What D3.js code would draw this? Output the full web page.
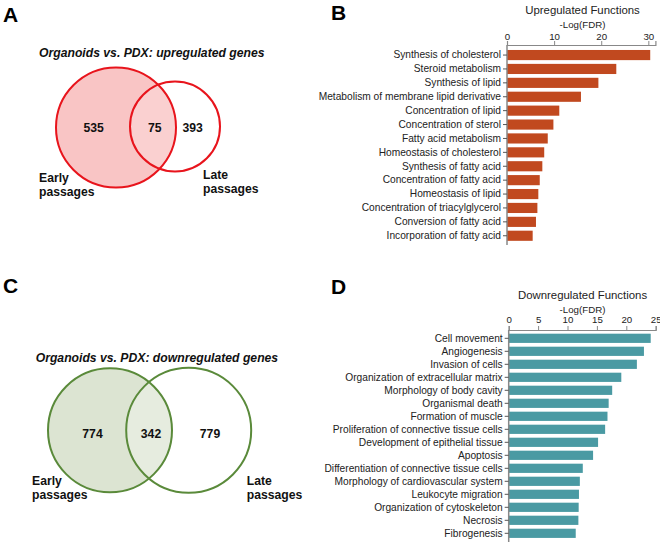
<!DOCTYPE html>
<html><head><meta charset="utf-8">
<script src="https://cdn.jsdelivr.net/npm/d3@7"></script>
<style>body{margin:0;background:#fff}svg{display:block;font-family:"Liberation Sans",Arial,sans-serif}</style>
</head><body><svg id="c" width="660" height="542"></svg>
<script>
const vennUpCounts = [535, 75, 393];
const vennDownCounts = [774, 342, 779];
const vennUpTitle = "Organoids vs. PDX: upregulated genes";
const vennDownTitle = "Organoids vs. PDX: downregulated genes";
const upFunctions = ["Synthesis of cholesterol","Steroid metabolism","Synthesis of lipid","Metabolism of membrane lipid derivative","Concentration of lipid","Concentration of sterol","Fatty acid metabolism","Homeostasis of cholesterol","Synthesis of fatty acid","Concentration of fatty acid","Homeostasis of lipid","Concentration of triacylglycerol","Conversion of fatty acid","Incorporation of fatty acid"];
const upValues = [30.4, 23.2, 19.4, 15.7, 11.1, 9.85, 8.65, 7.9, 7.5, 6.95, 6.65, 6.45, 6.15, 5.45];
const upTicks = [0, 10, 20, 30];
const downFunctions = ["Cell movement","Angiogenesis","Invasion of cells","Organization of extracellular matrix","Morphology of body cavity","Organismal death","Formation of muscle","Proliferation of connective tissue cells","Development of epithelial tissue","Apoptosis","Differentiation of connective tissue cells","Morphology of cardiovascular system","Leukocyte migration","Organization of cytoskeleton","Necrosis","Fibrogenesis"];
const downValues = [24.15, 23.0, 21.8, 19.15, 17.6, 17.0, 16.8, 16.4, 15.2, 14.35, 12.6, 12.1, 11.95, 11.9, 11.85, 11.4];
const downTicks = [0, 5, 10, 15, 20, 25];

const svg = d3.select("#c");

// panel letters
[["A",3,22],["B",331,20],["C",3,293],["D",331,294]].forEach(([t,x,y])=>{
  svg.append("text").attr("x",x).attr("y",y).attr("font-size",21).attr("font-weight","bold").attr("fill","#000").text(t);
});

function venn(cfg){
  const g = svg.append("g");
  const id = "clip"+cfg.key;
  g.append("clipPath").attr("id",id).append("circle").attr("cx",cfg.c1[0]).attr("cy",cfg.c1[1]).attr("r",cfg.c1[2]);
  g.append("circle").attr("cx",cfg.c1[0]).attr("cy",cfg.c1[1]).attr("r",cfg.c1[2]).attr("fill",cfg.fill1);
  g.append("circle").attr("cx",cfg.c2[0]).attr("cy",cfg.c2[1]).attr("r",cfg.c2[2]).attr("fill",cfg.fillO).attr("clip-path",`url(#${id})`);
  [cfg.c1,cfg.c2].forEach(c=>g.append("circle").attr("cx",c[0]).attr("cy",c[1]).attr("r",c[2]).attr("fill","none").attr("stroke",cfg.stroke).attr("stroke-width",2));
  g.append("text").attr("x",cfg.titleX).attr("y",cfg.titleY).attr("font-size",12.2).attr("font-weight","bold").attr("font-style","italic").attr("fill","#111").text(cfg.title);
  cfg.counts.forEach((v,i)=>{
    g.append("text").attr("x",cfg.numX[i]).attr("y",cfg.numY).attr("text-anchor","middle").attr("font-size",12.2).attr("font-weight","bold").attr("fill","#111").text(v);
  });
  [[cfg.earlyX,cfg.earlyY,"Early"],[cfg.earlyX,cfg.earlyY+14,"passages"],[cfg.lateX,cfg.lateY,"Late"],[cfg.lateX,cfg.lateY+14,"passages"]].forEach(([x,y,t])=>{
    g.append("text").attr("x",x).attr("y",y).attr("font-size",12.2).attr("font-weight","bold").attr("fill","#111").text(t);
  });
}

venn({key:"A",c1:[116,127.5,60],c2:[175,126.5,45],fill1:"#f9c5c5",fillO:"#fad0d0",stroke:"#e8141c",
  title:vennUpTitle,titleX:39,titleY:56.5,counts:vennUpCounts,numX:[93.7,154.7,192.7],numY:132,
  earlyX:39,earlyY:182,lateX:203,lateY:178.5});
venn({key:"C",c1:[110,430.3,62],c2:[188.7,430.3,62.5],fill1:"#dce4d2",fillO:"#e6ecdf",stroke:"#5a8a3a",
  title:vennDownTitle,titleX:35.7,titleY:362,counts:vennDownCounts,numX:[92.5,151,210],numY:437.5,
  earlyX:32,earlyY:485,lateX:246.7,lateY:485});

function bars(cfg){
  const g = svg.append("g");
  const x = d3.scaleLinear().domain([0,cfg.max]).range([cfg.x0,cfg.x1]);
  const y = d3.scaleBand().domain(cfg.labels).range([cfg.yTop,cfg.yTop+cfg.step*cfg.labels.length]).paddingInner(cfg.pad).paddingOuter(cfg.pad/2);
  g.append("text").attr("x",cfg.cx).attr("y",cfg.titleY).attr("text-anchor","middle").attr("font-size",11.4).attr("fill","#222").text(cfg.title);
  g.append("text").attr("x",cfg.cx).attr("y",cfg.titleY+14).attr("text-anchor","middle").attr("font-size",9.7).attr("fill","#222").text("-Log(FDR)");
  g.selectAll("rect").data(cfg.values).join("rect")
    .attr("x",x(0)).attr("y",(d,i)=>y(cfg.labels[i])).attr("width",d=>x(d)-x(0)).attr("height",y.bandwidth())
    .attr("fill",cfg.color);
  const xa = g.append("g").attr("transform",`translate(0,${cfg.axisY})`)
    .call(d3.axisTop(x).tickValues(cfg.ticks).tickSize(4).tickPadding(cfg.tp).tickFormat(d3.format("d")));
  xa.select(".domain").attr("stroke","#888").attr("stroke-width",1.2);
  xa.selectAll(".tick line").attr("stroke","#888");
  xa.selectAll("text").attr("font-size",9.7).attr("fill","#222").attr("font-family","Liberation Sans, Arial, sans-serif");
  const ya = g.append("g").attr("transform",`translate(${cfg.x0},0)`)
    .call(d3.axisLeft(y).tickSize(4).tickPadding(2).tickSizeOuter(0));
  ya.select(".domain").attr("d",`M0,${cfg.axisY}V${cfg.yEnd}`).attr("stroke","#888").attr("stroke-width",1.5);
  ya.selectAll(".tick line").attr("stroke","#555");
  ya.selectAll("text").attr("font-size",10.2).attr("fill","#222").attr("font-family","Liberation Sans, Arial, sans-serif");
}

bars({title:"Upregulated Functions",labels:upFunctions,values:upValues,ticks:upTicks,max:31.5,
  x0:507,x1:655.4,cx:582.5,titleY:14,axisY:45,tp:1,yTop:48.1,step:13.9,pad:0.27,yEnd:245,color:"#c1491f"});
bars({title:"Downregulated Functions",labels:downFunctions,values:downValues,ticks:downTicks,max:25,
  x0:508.7,x1:655.7,cx:582.5,titleY:299,axisY:330,tp:3,yTop:331.8,step:13.0,pad:0.29,yEnd:542,color:"#4a9aa3"});
</script></body></html>
